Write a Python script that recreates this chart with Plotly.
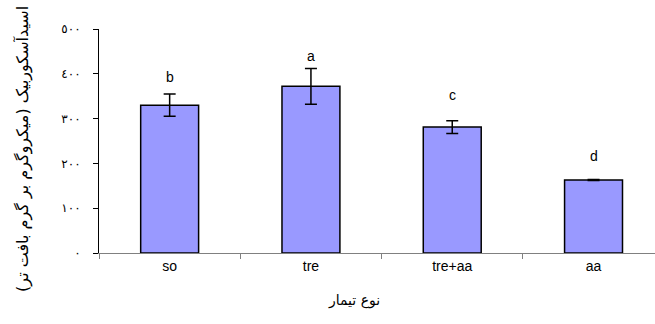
import plotly.graph_objects as go

categories = ["so", "tre", "tre+aa", "aa"]
values = [330, 372, 281, 163]
errors = [25, 40, 14, 1]
letters = ["b", "a", "c", "d"]
letter_y = [393, 440, 353, 216]
ytick_vals = [0, 100, 200, 300, 400, 500]
ytick_text = ["٠", "١٠٠", "٢٠٠", "٣٠٠", "٤٠٠", "٥٠٠"]
x_title = "نوع تیمار"
y_title = "اسیدآسکوربیک (میکروگرم بر گرم بافت تر)"

fig = go.Figure()
fig.add_trace(go.Bar(
    x=categories, y=values, width=0.41,
    marker=dict(color="#9999FF", line=dict(color="black", width=1.5)),
    error_y=dict(type="data", array=errors, color="black", thickness=1.5, width=6),
))
for c, l, ly in zip(categories, letters, letter_y):
    fig.add_annotation(x=c, y=ly, text=l, showarrow=False,
                       font=dict(family="Liberation Sans, Arial", size=14, color="black"))

fig.add_annotation(xref="paper", yref="paper", x=0.459, y=-0.214, text=x_title,
                   showarrow=False, xanchor="center", yanchor="middle",
                   font=dict(family="DejaVu Sans", size=14, color="black"))
fig.add_annotation(xref="paper", yref="paper", x=-0.137, y=0.464, text=y_title,
                   showarrow=False, textangle=-90, xanchor="center", yanchor="middle",
                   font=dict(family="DejaVu Sans", size=16, color="black"))

fig.update_layout(
    width=655, height=324,
    margin=dict(l=99, r=0, t=29, b=71),
    plot_bgcolor="white", paper_bgcolor="white",
    showlegend=False,
    xaxis=dict(
        range=[-0.5, 3.435], showline=True, linecolor="#808080", linewidth=1,
        ticks="outside", tickson="boundaries", ticklen=5, tickcolor="#808080",
        tickfont=dict(family="Liberation Sans, Arial", size=14, color="black"),
        showgrid=False, zeroline=False, automargin=False,
    ),
    yaxis=dict(
        range=[0, 500], showline=True, linecolor="black", linewidth=1,
        ticks="outside", ticklen=5, tickcolor="black",
        tickvals=ytick_vals, ticktext=ytick_text, ticklabelstandoff=10,
        tickfont=dict(family="DejaVu Sans", size=12, color="black"),
        showgrid=False, zeroline=False, automargin=False,
    ),
)
fig.write_html("out.html", config={"displayModeBar": False},
               post_script="document.body.style.margin='0';")
